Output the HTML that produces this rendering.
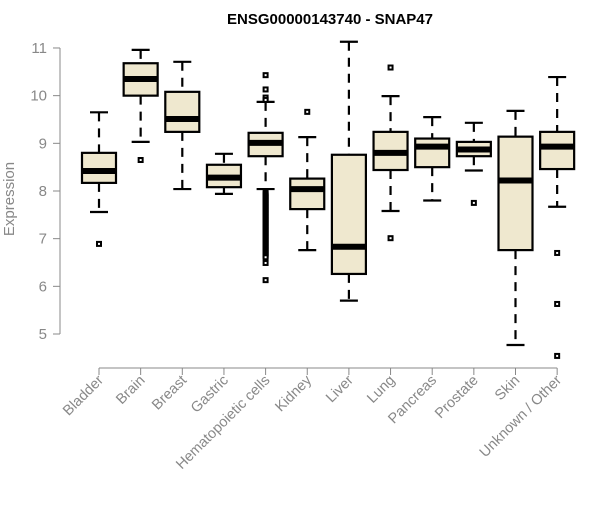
<!DOCTYPE html>
<html><head><meta charset="utf-8"><style>
body{margin:0;background:#fff}
svg{font-family:"Liberation Sans",Arial,sans-serif}
</style></head><body>
<svg width="600" height="500" id="c">
<text x="330" y="24" text-anchor="middle" font-weight="bold" font-size="15">ENSG00000143740 - SNAP47</text>
<text transform="translate(14,199) rotate(-90)" text-anchor="middle" font-size="15" fill="#888">Expression</text>
</svg>
<script>
const categories=["Bladder","Brain","Breast","Gastric","Hematopoietic cells","Kidney","Liver","Lung","Pancreas","Prostate","Skin","Unknown / Other"];
const whiskerLow=[7.56,9.03,8.04,7.94,8.04,6.76,5.70,7.58,7.80,8.43,4.77,7.67];
const q1=[8.17,10.0,9.24,8.08,8.73,7.62,6.26,8.44,8.50,8.73,6.76,8.46];
const median=[8.42,10.35,9.51,8.28,9.01,8.04,6.83,8.80,8.93,8.87,8.22,8.93];
const q3=[8.80,10.68,10.08,8.55,9.22,8.26,8.76,9.24,9.10,9.03,9.14,9.24];
const whiskerHigh=[9.65,10.96,10.71,8.78,9.87,9.13,11.13,9.99,9.55,9.43,9.68,10.39];
const outliers=[[6.89],[8.65],[],[],[10.43,10.13,9.96,9.91,7.96,7.93,7.90,7.87,7.84,7.81,7.78,7.75,7.72,7.69,7.66,7.63,7.60,7.57,7.54,7.51,7.48,7.45,7.42,7.39,7.36,7.33,7.30,7.27,7.24,7.21,7.18,7.15,7.12,7.09,7.06,7.03,7.00,6.97,6.94,6.91,6.88,6.85,6.82,6.79,6.76,6.73,6.70,6.67,6.64,6.61,6.49,6.13],[9.66],[],[10.59,7.01],[],[7.75],[],[6.70,5.63,4.54]];
const yTicks=[5,6,7,8,9,10,11];
const NS="http://www.w3.org/2000/svg";
const svg=document.getElementById('c');
const y=v=>334-(v-5)*47.67;
const x=i=>99+i*41.65;
function mk(t,a,p){const e=document.createElementNS(NS,t);for(const k in a)e.setAttribute(k,a[k]);(p||svg).appendChild(e);return e;}
let ax=mk('line',{x1:60,x2:60,y1:y(5),y2:y(11),stroke:'#888'});


yTicks.forEach(v=>{
  mk('line',{x1:53,x2:60,y1:y(v),y2:y(v),stroke:'#888'});
  const t=mk('text',{x:47,y:y(v)+5,'text-anchor':'end','font-size':15,fill:'#888'});
  t.textContent=v;
  
  
});
let xa=mk('line',{x1:x(0),x2:x(11),y1:368,y2:368,stroke:'#888'});


categories.forEach((c,i)=>{
  const cx=x(i),w=17;
  mk('line',{x1:cx,x2:cx,y1:368,y2:375,stroke:'#888'});
  const t=mk('text',{x:0,y:0,'text-anchor':'end','font-size':14.5,fill:'#888',transform:`translate(${cx+5},${381}) rotate(-45)`});
  t.textContent=c;
  
  
  const g=mk('g',{});
  
  
  const st={stroke:'#000','stroke-width':2.2};
  mk('line',Object.assign({x1:cx,x2:cx,y1:y(whiskerHigh[i]),y2:y(q3[i]),'stroke-dasharray':'9,7'},st),g);
  mk('line',Object.assign({x1:cx,x2:cx,y1:y(q1[i]),y2:y(whiskerLow[i]),'stroke-dasharray':'9,7'},st),g);
  mk('line',Object.assign({x1:cx-9,x2:cx+9,y1:y(whiskerHigh[i]),y2:y(whiskerHigh[i])},st),g);
  mk('line',Object.assign({x1:cx-9,x2:cx+9,y1:y(whiskerLow[i]),y2:y(whiskerLow[i])},st),g);
  mk('rect',Object.assign({x:cx-w,y:y(q3[i]),width:2*w,height:y(q1[i])-y(q3[i]),fill:'#efe8cf'},st),g);
  mk('line',{x1:cx-w,x2:cx+w,y1:y(median[i]),y2:y(median[i]),stroke:'#000','stroke-width':6},g);
  outliers[i].forEach(v=>{
    const o=mk('rect',{x:cx-2,y:y(v)-2,width:4,height:4,fill:'#fff',stroke:'#000','stroke-width':2},g);
    
    
  });
});
</script>
</body></html>
